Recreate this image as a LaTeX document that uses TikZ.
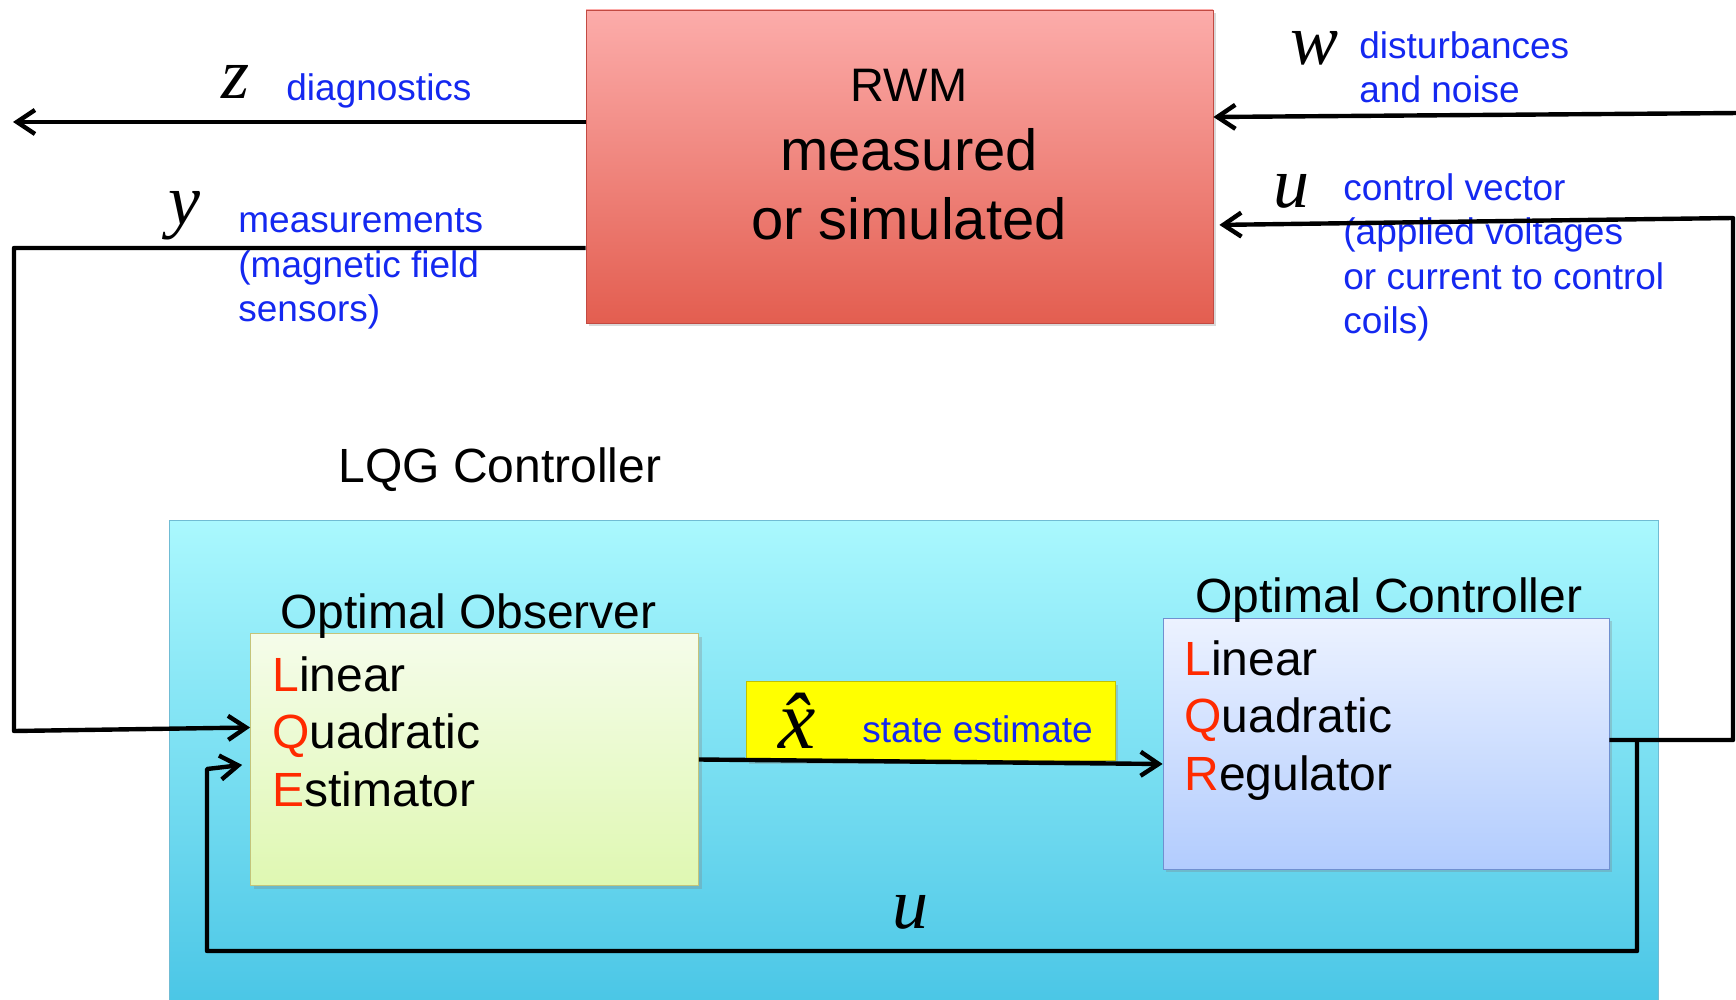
\documentclass[tikz,border=0pt]{standalone}
\usepackage{fontspec}
\setmainfont{Liberation Sans}
\newfontfamily\varfont{Liberation Serif}
\usepackage{xcolor}
\usetikzlibrary{arrows.meta}
\usetikzlibrary{shadows}

\definecolor{sigblue}{HTML}{1428F0}
\definecolor{initred}{HTML}{FF2A00}
\definecolor{rwmtop}{HTML}{FCACAA}
\definecolor{rwmbot}{HTML}{E35E50}
\definecolor{rwmline}{HTML}{C24A42}
\definecolor{lqgtop}{HTML}{AAF8FE}
\definecolor{lqgbot}{HTML}{4AC6E6}
\definecolor{lqgline}{HTML}{70BCD4}
\definecolor{obstop}{HTML}{F5FCEA}
\definecolor{obsbot}{HTML}{DFF8B2}
\definecolor{obsline}{HTML}{C4C47A}
\definecolor{ctltop}{HTML}{ECF2FF}
\definecolor{ctlbot}{HTML}{B2CCFE}
\definecolor{ctlline}{HTML}{7090D0}
\definecolor{estfill}{HTML}{FFFF00}
\definecolor{estline}{HTML}{C2C200}

\newcommand{\initial}[1]{\textcolor{initred}{#1}}

\tikzset{
    block/.style = {rectangle, inner sep=0pt, thin, drop shadow={opacity=0.3, shadow xshift=1.5pt, shadow yshift=-1.5pt}},
    rwm_block/.style = {block, draw=rwmline, top color=rwmtop, bottom color=rwmbot, minimum width=313.5pt, minimum height=156.5pt},
    lqg_block/.style = {rectangle, inner sep=0pt, thin, draw=lqgline, top color=lqgtop, bottom color=lqgbot, minimum width=744.5pt, minimum height=242pt},
    obs_block/.style = {block, draw=obsline, top color=obstop, bottom color=obsbot, minimum width=224pt, minimum height=126pt},
    ctl_block/.style = {block, draw=ctlline, top color=ctltop, bottom color=ctlbot, minimum width=223pt, minimum height=125.5pt},
    est_block/.style = {block, draw=estline, fill=estfill, minimum width=184.5pt, minimum height=39.5pt}
}
\tikzset{
    sig_text/.style = {anchor=base west, inner sep=0pt, align=left, text=sigblue, font=\fontsize{18.5}{22.3}\selectfont},
    var_text/.style = {anchor=base west, inner sep=0pt, font=\varfont\itshape\fontsize{36}{36}\selectfont},
    head_text/.style = {anchor=base west, inner sep=0pt, font=\fontsize{24}{28.5}\selectfont},
    lq_text/.style = {head_text, align=left, font=\fontsize{24}{28.6}\selectfont},
    signal/.style = {->, line width=2.2pt, line join=round}
}

\begin{document}
\begin{tikzpicture}
            [x=0.5pt, y=-0.5pt,
            >={Straight Barb[length=9pt, width=12pt]}]

            \clip (0,0) rectangle (1736,1000);

            % blocks
            \node [lqg_block] (lqg) at (913.5,762) {};
            \node [rwm_block] (rwm) at (899.5,166.5) {};
            \node [obs_block] (obs) at (474.5,759.5) {};
            \node [ctl_block] (ctl) at (1386,743.5) {};
            \node [est_block] (est) at (930.5,721) {};

            \node [align=center, inner sep=0pt, font=\fontsize{29}{34.5}\selectfont] (rwmtext) at (909,155)
                {{\fontsize{23.5}{28}\selectfont RWM}\\measured\\or simulated};

            % labels (multi-line ones sit on their last line)
            \node [var_text] (zvar) at (221,99) {z};
            \node [sig_text] (diag) at (286,101) {diagnostics};
            \node [var_text] (yvar) at (168,225) {y};
            \node [sig_text] (meas) at (238,322) {measurements\\(magnetic field\\sensors)};
            \node [var_text] (wvar) at (1290,65) {w};
            \node [sig_text] (dist) at (1359,103) {disturbances\\and noise};
            \node [var_text] (uvar) at (1273,208) {u};
            \node [sig_text] (ctlvec) at (1343,334) {control vector\\(applied voltages\\or current to control\\coils)};

            \node [head_text] (lqgtitle) at (338,482) {LQG Controller};
            \node [head_text] (obstitle) at (280,628) {Optimal Observer};
            \node [lq_text] (obstext) at (272,806) {\initial{L}inear\\\initial{Q}uadratic\\\initial{E}stimator};
            \node [head_text] (ctltitle) at (1195,612) {Optimal Controller};
            \node [lq_text] (ctltext) at (1184,790) {\initial{L}inear\\\initial{Q}uadratic\\\initial{R}egulator};

            \node [var_text, font=\varfont\itshape\fontsize{42}{42}\selectfont] (xhat) at (778,748) {\^{x}};
            \node [sig_text] (stest) at (862,742) {state estimate};
            \node [var_text] (ubot) at (892,928) {u};

            % signals
            \coordinate (zout) at (13,122);
            \coordinate (ytop) at (14,248);
            \coordinate (ybot) at (14,731);
            \coordinate (win) at (1740,113);
            \coordinate (uright) at (1733,740);
            \coordinate (uup) at (1733,218);
            \coordinate (ufork) at (1637,740);
            \coordinate (ulowr) at (1637,951);
            \coordinate (ulowl) at (207,951);
            \coordinate (uleft) at (207,769);

            \draw [signal] ([yshift=22.25pt]rwm.west) -- (zout);
            \draw [signal] ([yshift=-40.75pt]rwm.west) -- (ytop) -- (ybot) -- ([yshift=16pt]obs.west);
            \draw [signal] (win) -- ([yshift=24.75pt]rwm.east);
            \draw [signal, shorten >=3pt] ([yshift=1.75pt]ctl.east) -- (uright) -- (uup) -- ([yshift=-29.25pt]rwm.east);
            \draw [signal] (obs.east) -- ([yshift=-10.25pt]ctl.west);
            \draw [signal, shorten >=4pt] (ufork) -- (ulowr) -- (ulowl) -- (uleft) -- ([yshift=-2.25pt]obs.west);
\end{tikzpicture}
\end{document}
